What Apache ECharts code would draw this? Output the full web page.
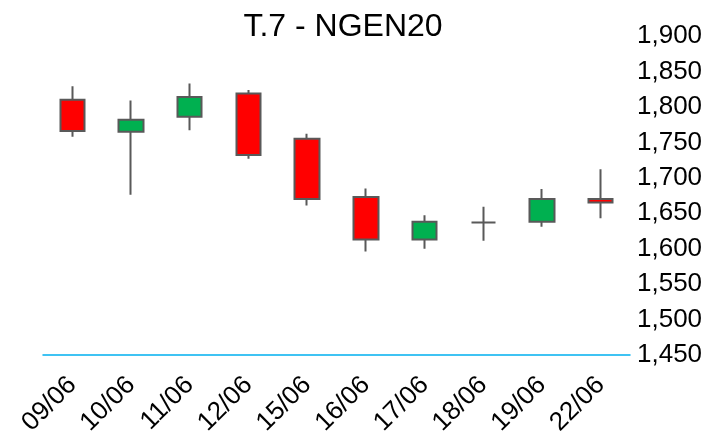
<!DOCTYPE html>
<html>
<head>
<meta charset="utf-8">
<script src="https://cdn.jsdelivr.net/npm/echarts@6/dist/echarts.min.js"></script>
<style>html,body{margin:0;padding:0;background:#fff}#c{width:709px;height:437px}</style>
</head>
<body>
<div id="c"></div>
<script>
// Data
const categories = ['09/06','10/06','11/06','12/06','15/06','16/06','17/06','18/06','19/06','22/06'];
const opens  = [1810, 1765, 1786, 1819, 1755, 1673, 1613, 1637, 1638, 1670];
const closes = [1766, 1782, 1814, 1732, 1670, 1613, 1638, 1637, 1670, 1665];
const lows   = [1758, 1676, 1767, 1727, 1661, 1596, 1600, 1611, 1631, 1643];
const highs  = [1829, 1809, 1833, 1824, 1762, 1685, 1647, 1659, 1684, 1712];
const yMin = 1450, yMax = 1900, yStep = 50;
const titleText = 'T.7 - NGEN20';

const candleData = categories.map((c, i) => [opens[i], closes[i], lows[i], highs[i]]);
const font = 'Liberation Sans, Arial, sans-serif';

const chart = echarts.init(document.getElementById('c'), null, {renderer: 'canvas'});
chart.setOption({
  animation: false,
  backgroundColor: '#ffffff',
  title: {
    text: titleText,
    left: 338,
    top: 6,
    textAlign: 'center',
    textStyle: {fontFamily: font, fontSize: 32, fontWeight: 'normal', color: '#000'}
  },
  grid: {left: 43, right: 79, top: 36, bottom: 82, containLabel: false, outerBoundsMode: 'none'},
  xAxis: {
    type: 'category',
    data: categories,
    boundaryGap: true,
    axisLine: {show: true, lineStyle: {color: '#00b0f0', width: 1.5}},
    axisTick: {show: false},
    splitLine: {show: false},
    axisLabel: {rotate: 45, fontFamily: font, fontSize: 26, color: '#000', margin: 26, interval: 0}
  },
  yAxis: {
    type: 'value',
    position: 'right',
    min: yMin, max: yMax, interval: yStep,
    axisLine: {show: false},
    axisTick: {show: false},
    splitLine: {show: false},
    axisLabel: {
      fontFamily: font, fontSize: 26, color: '#000', margin: 7,
      formatter: v => v.toLocaleString('en-US')
    }
  },
  series: [{
    type: 'candlestick',
    data: candleData,
    barWidth: 25,
    itemStyle: {
      color: '#00b050',
      color0: '#ff0000',
      borderColor: '#595959',
      borderColor0: '#595959',
      borderColorDoji: '#595959',
      borderWidth: 2
    }
  }]
});
</script>
</body>
</html>
